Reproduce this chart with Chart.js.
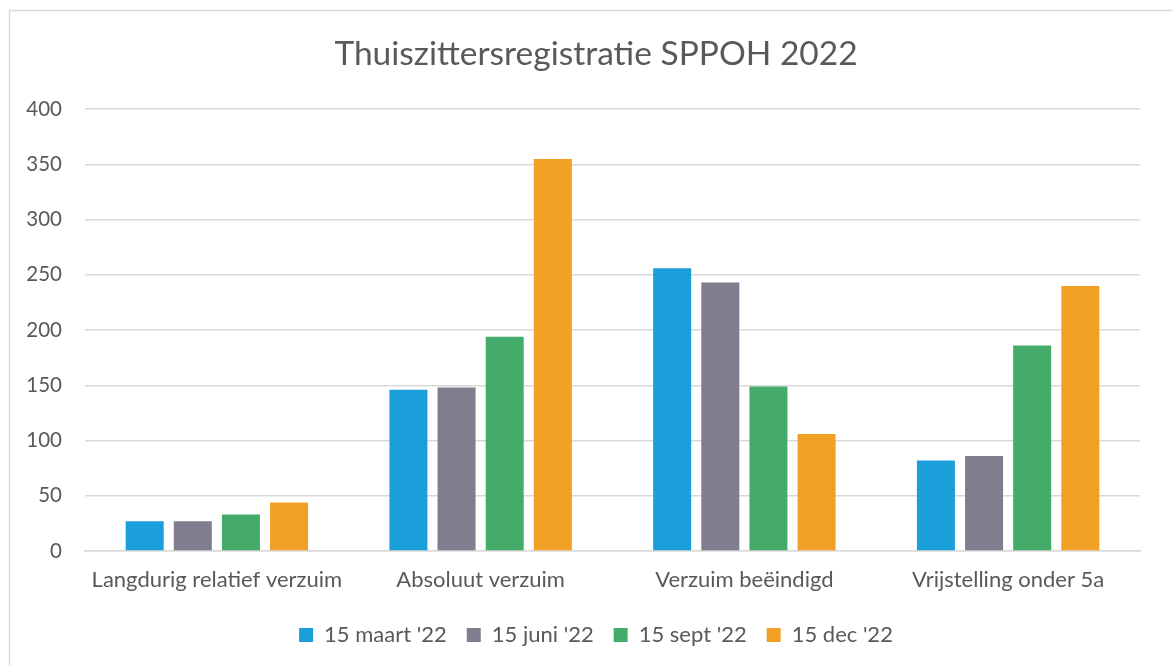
<!DOCTYPE html>
<html>
<head>
<meta charset="utf-8">
<script src="https://cdn.jsdelivr.net/npm/chart.js@4/dist/chart.umd.min.js"></script>
<style>
html,body{margin:0;padding:0;background:#fff;}
#wrap{width:1172px;height:665px;position:relative;}
</style>
</head>
<body>
<div id="wrap"><canvas id="c"></canvas></div>
<script>
const categories = ["Langdurig relatief verzuim", "Absoluut verzuim", "Verzuim beëindigd", "Vrijstelling onder 5a"];
const seriesNames = ["15 maart '22", "15 juni '22", "15 sept '22", "15 dec '22"];
const maart = [27, 146, 256, 82];
const juni = [27, 148, 243, 86];
const sept = [33, 194, 149, 186];
const dec = [44, 355, 106, 240];
const yTicks = [0, 50, 100, 150, 200, 250, 300, 350, 400];
const chartTitle = "Thuiszittersregistratie SPPOH 2022";

const colors = ["#1a9fdb", "#817d8f", "#45ab6a", "#f29f26"];
const seriesValues = [maart, juni, sept, dec];
const FONT = "Lato, 'Open Sans', sans-serif";
const TXT = "#595959";

const borderPlugin = {
  id: 'outerBorder',
  beforeDraw(chart) {
    const ctx = chart.ctx;
    ctx.save();
    ctx.fillStyle = '#fff';
    ctx.fillRect(0, 0, chart.width, chart.height);
    ctx.strokeStyle = '#d9d9d9';
    ctx.lineWidth = 1.5;
    ctx.strokeRect(9.5, 10.5, chart.width + 20, chart.height + 20);
    ctx.restore();
  }
};

new Chart(document.getElementById('c'), {
  type: 'bar',
  data: {
    labels: categories,
    datasets: seriesValues.map((v, i) => ({
      label: seriesNames[i],
      data: v,
      backgroundColor: colors[i],
      borderWidth: 0,
      categoryPercentage: 0.73,
      barPercentage: 0.79
    }))
  },
  options: {
    responsive: true,
    maintainAspectRatio: false,
    animation: false,
    layout: { padding: { left: 52, right: 32, top: 12, bottom: 9 } },
    plugins: {
      title: {
        display: true,
        text: chartTitle,
        color: TXT,
        font: { family: FONT, size: 33.5, weight: 'normal' },
        padding: { top: 22, bottom: 35 }
      },
      legend: {
        position: 'bottom',
        labels: {
          color: TXT,
          font: { family: FONT, size: 22 },
          boxWidth: 14,
          boxHeight: 14,
          padding: 20
        }
      },
      tooltip: { enabled: false }
    },
    scales: {
      x: {
        afterFit(scale) { scale.height = 53; },
        grid: { display: false },
        border: { display: true, color: '#d9d9d9', width: 1.5 },
        ticks: { color: TXT, font: { family: FONT, size: 22 }, padding: 8, maxRotation: 0 }
      },
      y: {
        min: 0,
        max: 400,
        afterFit(scale) { scale.width = 33; scale._computeLabelArea = () => undefined; },
        afterBuildTicks(scale) { scale.ticks = yTicks.map(v => ({ value: v })); },
        grid: { color: '#d9d9d9', lineWidth: 1.5, drawTicks: false },
        border: { display: false },
        ticks: { color: TXT, font: { family: FONT, size: 20.5 }, padding: 23 }
      }
    }
  },
  plugins: [borderPlugin]
});
</script>
</body>
</html>
